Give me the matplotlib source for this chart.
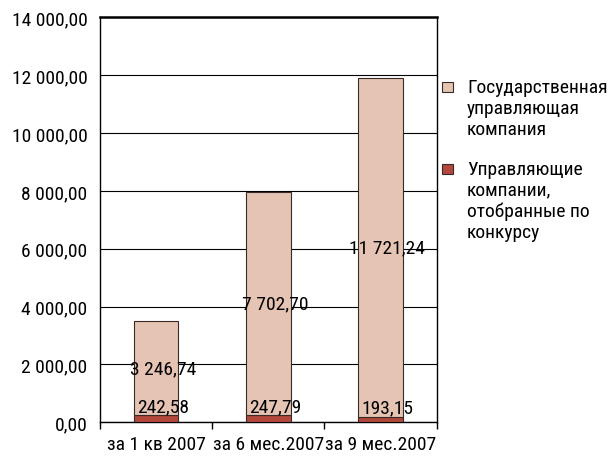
import matplotlib

matplotlib.use("Agg")
import matplotlib.pyplot as plt
from matplotlib.patches import Rectangle

categories = ["за 1 кв 2007", "за 6 мес.2007", "за 9 мес.2007"]
state_company = [3246.74, 7702.70, 11721.24]
selected_companies = [242.58, 247.79, 193.15]
series_names = ["Государственная\nуправляющая\nкомпания",
                "Управляющие\nкомпании,\nотобранные по\nконкурсу"]
y_ticks = [0, 2000, 4000, 6000, 8000, 10000, 12000, 14000]

PINK = "#E5C4B4"
RED = "#B4473B"
EDGE = "#3a2a25"

plt.rcParams["font.family"] = ["Roboto Condensed", "DejaVu Sans"]
plt.rcParams["font.size"] = 14


def fmt(v):
    s = f"{v:,.2f}"
    return s.replace(",", " ").replace(".", ",")


fig = plt.figure(figsize=(6.09, 4.6), dpi=100)
ax = fig.add_axes([0.164, 0.080, 0.553, 0.880])

x = list(range(len(categories)))
ax.bar(x, selected_companies, width=0.4, color=RED, edgecolor=EDGE,
       linewidth=0.8, zorder=3)
ax.bar(x, state_company, width=0.4, bottom=selected_companies, color=PINK,
       edgecolor=EDGE, linewidth=0.8, zorder=3)

for i in x:
    mid = selected_companies[i] + state_company[i] / 2
    ax.text(i + 0.06, mid, fmt(state_company[i]), ha="center", va="center", zorder=5)
    ax.annotate(fmt(selected_companies[i]), (i + 0.06, selected_companies[i]),
                xytext=(0, 0), textcoords="offset points",
                ha="center", va="bottom", zorder=5)

ax.set_xlim(-0.5, 2.5)
ax.set_ylim(0, 14000)
ax.set_yticks(y_ticks)
ax.set_yticklabels([fmt(v) for v in y_ticks])
ax.yaxis.grid(True, color="black", linewidth=0.8, zorder=0)
ax.tick_params(axis="y", length=0, pad=9)

ax.set_xticks(x)
ax.set_xticklabels(categories)
ax.set_xticks([-0.5, 0.5, 1.5, 2.5], minor=True)
ax.tick_params(axis="x", which="major", length=0, pad=9)
ax.tick_params(axis="x", which="minor", length=5, width=1, color="black")

ax.spines["top"].set_linewidth(1.8)
for side in ["left", "right", "bottom"]:
    ax.spines[side].set_linewidth(1.0)
for s in ax.spines.values():
    s.set_color("black")

# legend: square next to the first line of each multi-line label
legend_colors = [PINK, RED]
legend_tops = [79, 161]
for name, color, top in zip(series_names, legend_colors, legend_tops):
    fig.add_artist(Rectangle((442 / 609, 1 - (top + 14) / 460), 11 / 609, 10 / 460,
                             transform=fig.transFigure, facecolor=color,
                             edgecolor=EDGE, linewidth=0.8))
    fig.text(467 / 609, 1 - top / 460, name, ha="left", va="top", linespacing=1.2)

fig.savefig("out.png", dpi=100, facecolor="white")
